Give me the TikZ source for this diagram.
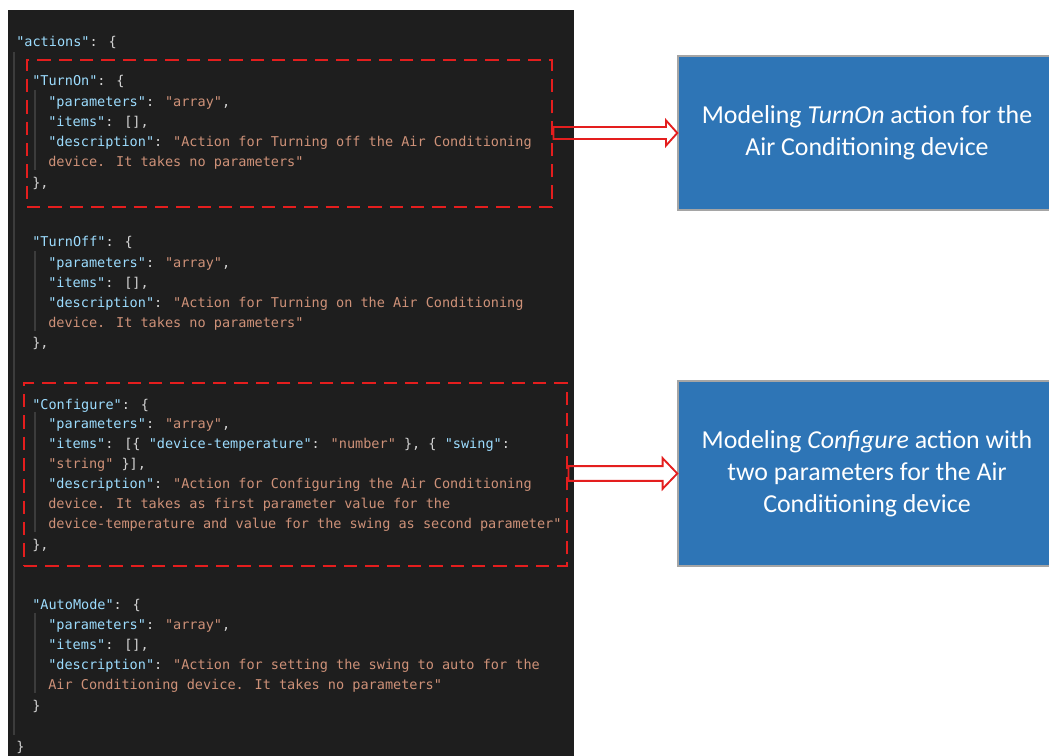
\documentclass[tikz,border=0pt]{standalone}
\usepackage{fontspec}
\usetikzlibrary{calc,fit}

\newfontfamily\codefont{DejaVu Sans Mono}
\newfontfamily\notefont{Carlito}

\definecolor{editorbg}{HTML}{1E1E1E}
\definecolor{guidecol}{HTML}{3C3C3C}
\definecolor{keycol}{HTML}{9CDCFE}
\definecolor{strcol}{HTML}{CE9178}
\definecolor{punctcol}{HTML}{D4D4D4}
\definecolor{selred}{HTML}{E41E1E}
\definecolor{notefill}{HTML}{2E75B6}
\definecolor{noteline}{HTML}{A5A5A5}

\newcommand{\jk}[1]{\textcolor{keycol}{#1}}
\newcommand{\js}[1]{\textcolor{strcol}{#1}}

\tikzset{
  hlbox/.style={draw=selred,line width=2.2pt,dash pattern=on 10pt off 6pt,inner sep=0pt},
  note/.style={draw=noteline,line width=1.1pt,fill=notefill,inner sep=0pt,text=white,align=center,
               minimum width=283.5pt,font=\notefont\fontsize{19.4}{24}\selectfont},
  blockarrow/.style={draw=selred,line width=1.4pt,line join=miter}
}

\begin{document}
\begin{tikzpicture}[x=0.75pt,y=-0.75pt]
\clip (0,0) rectangle (1049,756);
\fill[white] (0,0) rectangle (1049,756);
% editor panel
\fill[editorbg] (8,10) rectangle (574,756);
\draw[guidecol,line width=0.8pt] (14,52) -- (14,735);
\foreach \ya/\yb in {90/170,251/331,412/532,613/693}
  \draw[guidecol,line width=0.8pt] (35,\ya) -- (35,\yb);

\node[hlbox,fit={(27,60) (552,207)}] (turnonsel) {};
\node[hlbox,fit={(24,383) (567,566)}] (configsel) {};

\begin{scope}[yshift=-2.6pt,
              every node/.style={anchor=mid west,inner sep=0pt,text=punctcol,
                                 font=\codefont\fontsize{10.15}{12}\selectfont}]
  \node (root) at (16,40) {\jk{"actions"}: \{};
  % TurnOn
  \node (on0) at (32,79) {\jk{"TurnOn"}: \{};
  \node (on1) at (48,100) {\jk{"parameters"}: \js{"array"},};
  \node (on2) at (48,120) {\jk{"items"}: [],};
  \node (on3) at (48,140) {\jk{"description"}: \js{"Action for Turning off the Air Conditioning}};
  \node (on4) at (48,160) {\js{device. It takes no parameters"}};
  \node (on5) at (32,181) {\},};
  % TurnOff
  \node (off0) at (32,240) {\jk{"TurnOff"}: \{};
  \node (off1) at (48,261) {\jk{"parameters"}: \js{"array"},};
  \node (off2) at (48,281) {\jk{"items"}: [],};
  \node (off3) at (48,301) {\jk{"description"}: \js{"Action for Turning on the Air Conditioning}};
  \node (off4) at (48,321) {\js{device. It takes no parameters"}};
  \node (off5) at (32,341) {\},};
  % Configure
  \node (cfg0) at (32,403) {\jk{"Configure"}: \{};
  \node (cfg1) at (48,422) {\jk{"parameters"}: \js{"array"},};
  \node (cfg2) at (48,442) {\jk{"items"}: [\{ \jk{"device-temperature"}: \js{"number"} \}, \{ \jk{"swing"}:};
  \node (cfg3) at (48,462) {\js{"string"} \}],};
  \node (cfg4) at (48,482) {\jk{"description"}: \js{"Action for Configuring the Air Conditioning}};
  \node (cfg5) at (48,502) {\js{device. It takes as first parameter value for the}};
  \node (cfg6) at (48,522) {\js{device-temperature and value for the swing as second parameter"}};
  \node (cfg7) at (32,543) {\},};
  % AutoMode
  \node (auto0) at (32,603) {\jk{"AutoMode"}: \{};
  \node (auto1) at (48,623) {\jk{"parameters"}: \js{"array"},};
  \node (auto2) at (48,643) {\jk{"items"}: [],};
  \node (auto3) at (48,663) {\jk{"description"}: \js{"Action for setting the swing to auto for the}};
  \node (auto4) at (48,683) {\js{Air Conditioning device. It takes no parameters"}};
  \node (auto5) at (32,704) {\}};
  \node (rootend) at (16,745) {\}};
\end{scope}

\node[note,minimum height=115.5pt] (turnonnote) at (867,133)
  {Modeling \textit{TurnOn} action for the\\Air Conditioning device};
\node[note,minimum height=138.75pt] (confignote) at (867,473.5)
  {Modeling \textit{Configure} action with\\two parameters for the Air\\Conditioning device};

\draw[blockarrow] let \p1=(turnonsel.east), \p2=(turnonnote.west) in
  (\x1,\y2+4.5pt) -- (\x2-8.5pt,\y2+4.5pt) -- (\x2-8.5pt,\y2+9.5pt) -- (\p2)
  -- (\x2-8.5pt,\y2-9.5pt) -- (\x2-8.5pt,\y2-4.5pt) -- (\x1,\y2-4.5pt) -- cycle;
\draw[blockarrow] let \p1=(configsel.east), \p2=(confignote.west) in
  (\x1,\y2+5.5pt) -- (\x2-11pt,\y2+5.5pt) -- (\x2-11pt,\y2+11.5pt) -- (\p2)
  -- (\x2-11pt,\y2-11.5pt) -- (\x2-11pt,\y2-5.5pt) -- (\x1,\y2-5.5pt) -- cycle;
\end{tikzpicture}
\end{document}
